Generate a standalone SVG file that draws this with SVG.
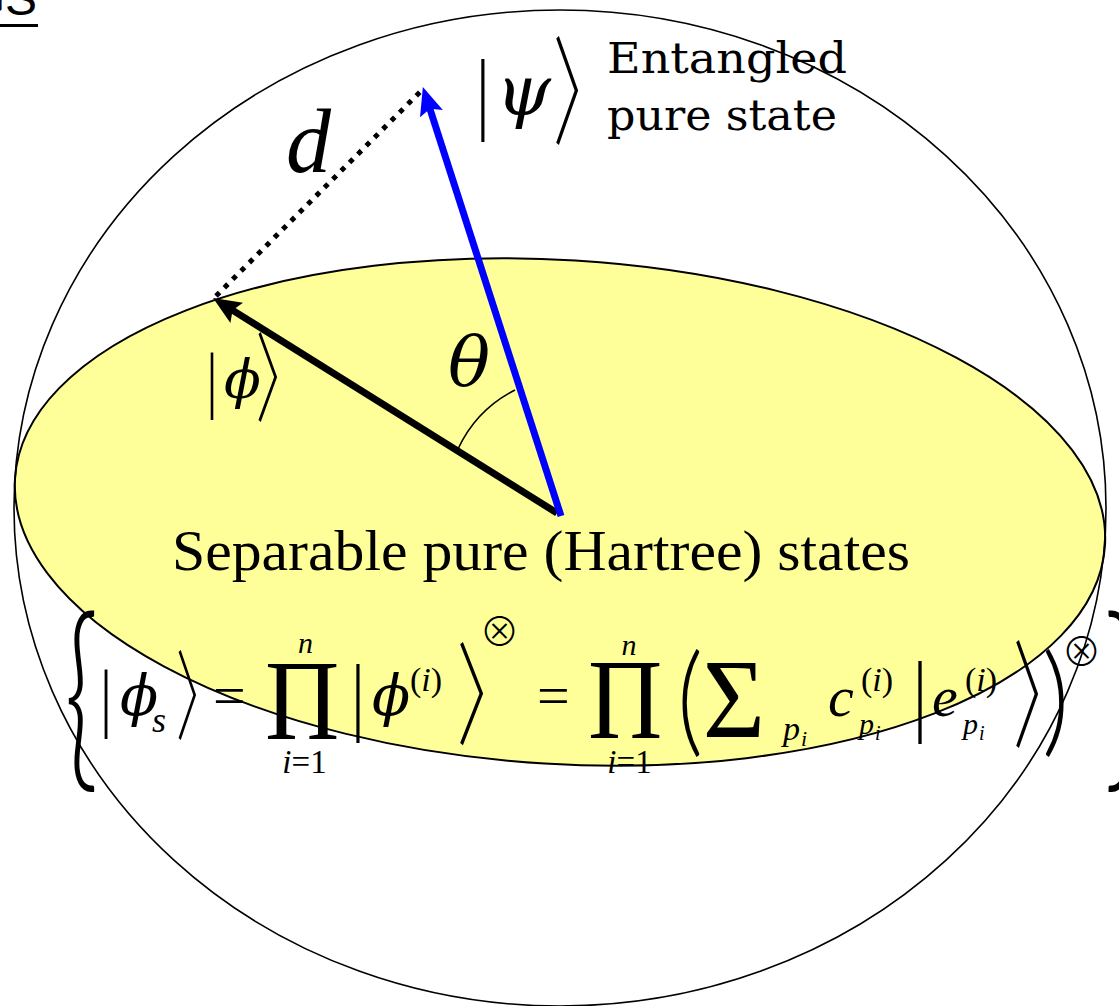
<svg xmlns="http://www.w3.org/2000/svg" width="1119" height="1006" viewBox="0 0 1119 1006">
<defs>
<style>
.m{font-family:"Liberation Serif","DejaVu Serif",serif;fill:#000}
.mi{font-family:"Liberation Serif","DejaVu Serif",serif;font-style:italic;fill:#000}
.gi{font-family:"DejaVu Serif",serif;font-style:italic;fill:#000}
.br{font-family:"Noto Sans CJK SC",sans-serif;font-weight:300;fill:#000}
.dl{font-family:"Lato",sans-serif;font-weight:300;fill:#000}
.lab{font-family:"DejaVu Serif",serif;fill:#000}
</style>
<marker id="ahK" markerUnits="userSpaceOnUse" markerWidth="30" markerHeight="24" viewBox="0 0 30 24" refX="8" refY="12" orient="auto"><path d="M0,0 L28,12 L0,24 L5,12 z" fill="#000"/></marker>
<marker id="ahB" markerUnits="userSpaceOnUse" markerWidth="30" markerHeight="24" viewBox="0 0 30 24" refX="8" refY="12" orient="auto"><path d="M0,0 L28,12 L0,24 L5,12 z" fill="#0000FF"/></marker>
</defs>
<rect x="0" y="0" width="1119" height="1006" fill="#fff"/>
<g id="heading">
<text x="37" y="15" text-anchor="end" font-family="Liberation Sans, Arial, sans-serif" font-size="48">GS</text>
<rect x="0" y="24" width="38" height="3" fill="#000"/>
</g>
<g id="separable-plane">
<ellipse cx="560" cy="512" rx="546" ry="252" transform="rotate(3.5 560 512)" fill="#FFFF99" stroke="#000" stroke-width="2"/>
</g>
<g id="sphere">
<ellipse cx="560" cy="508" rx="546" ry="498" fill="none" stroke="#000" stroke-width="1.6"/>
</g>
<g id="connectors">
<line x1="216" y1="296" x2="424" y2="88" stroke="#000" stroke-width="5" stroke-dasharray="5 6.8"/>
<line x1="557" y1="513" x2="230" y2="308.6" stroke="#000" stroke-width="7" marker-end="url(#ahK)"/>
<line x1="561" y1="516" x2="429" y2="106" stroke="#0000FF" stroke-width="7" marker-end="url(#ahB)"/>
<path d="M458,449 A126,126 0 0 1 515,390" fill="none" stroke="#000" stroke-width="1.6"/>
</g>
<g id="label-d"><text class="mi" x="286" y="172" font-size="90">d</text></g>
<g id="label-theta"><text class="gi" x="448" y="386" font-size="70">θ</text></g>
<g id="ket-psi">
<text class="m" transform="translate(476.6 123) scale(0.7 1)" font-size="91">|</text>
<text class="gi" x="496" y="115" font-size="70">ψ</text>
<text class="br" transform="translate(552.9 135.9) scale(0.538 1)" font-size="118">〉</text>
</g>
<g id="label-entangled">
<text class="lab" x="607" y="73" font-size="42" textLength="240" lengthAdjust="spacingAndGlyphs">Entangled</text>
<text class="lab" x="607" y="130" font-size="42" textLength="230" lengthAdjust="spacingAndGlyphs">pure state</text>
</g>
<g id="ket-phi">
<text class="m" transform="translate(206.8 403.6) scale(0.7 1)" font-size="75">|</text>
<text class="gi" x="224" y="398" font-size="54">ϕ</text>
<text class="br" transform="translate(255.7 414.2) scale(0.554 1)" font-size="97.4">〉</text>
</g>
<g id="label-separable">
<text class="m" x="172" y="570" font-size="56" textLength="738" lengthAdjust="spacingAndGlyphs">Separable pure (Hartree) states</text>
</g>
<g id="formula">
<text class="dl" transform="translate(64 765) scale(0.98 1.7)" font-size="120">{</text>
<text class="m" transform="translate(100.2 723.2) scale(0.75 1)" font-size="77">|</text>
<text class="gi" x="120" y="715" font-size="56">ϕ</text>
<text class="mi" x="152" y="732" font-size="36">s</text>
<text class="br" transform="translate(175.9 732.2) scale(0.521 1)" font-size="97.4">〉</text>
<text class="m" x="213" y="715" font-size="58">=</text>
<text class="m" transform="translate(265 739) scale(0.895 1)" font-size="115">Π</text>
<text class="mi" x="305.5" y="653" font-size="30" text-anchor="middle">n</text>
<text class="m" x="304.5" y="773" font-size="33" text-anchor="middle"><tspan font-style="italic">i</tspan>=1</text>
<text class="m" transform="translate(351.6 724.3) scale(0.75 1)" font-size="86">|</text>
<text class="gi" x="372" y="715" font-size="56">ϕ</text>
<text class="m" x="410" y="691" font-size="34">(<tspan font-style="italic">i</tspan>)</text>
<text class="br" transform="translate(456.7 736.3) scale(0.597 1)" font-size="111.7">〉</text>
<text class="br" x="499.5" y="646" font-size="40" text-anchor="middle">⊗</text>
<text class="m" x="537" y="715" font-size="58">=</text>
<text class="m" transform="translate(588 738) scale(0.895 1)" font-size="115">Π</text>
<text class="mi" x="629" y="655" font-size="30" text-anchor="middle">n</text>
<text class="m" x="629.5" y="773" font-size="33" text-anchor="middle"><tspan font-style="italic">i</tspan>=1</text>
<text class="dl" transform="translate(677 741) scale(0.9 1.07)" font-size="112">(</text>
<text class="m" transform="translate(702.8 737) scale(0.955 1)" font-size="112">Σ</text>
<text class="mi" x="783" y="740" font-size="34">p</text>
<text class="mi" x="801" y="746" font-size="22">i</text>
<text class="mi" x="828" y="716" font-size="58">c</text>
<text class="m" x="861" y="691" font-size="34">(<tspan font-style="italic">i</tspan>)</text>
<text class="mi" x="859" y="734" font-size="30">p</text>
<text class="mi" x="875" y="740" font-size="20">i</text>
<text class="m" transform="translate(913.2 725.4) scale(0.75 1)" font-size="90">|</text>
<text class="mi" x="932" y="716" font-size="58">e</text>
<text class="m" x="965" y="691" font-size="34">(<tspan font-style="italic">i</tspan>)</text>
<text class="mi" x="963" y="734" font-size="30">p</text>
<text class="mi" x="979" y="740" font-size="20">i</text>
<text class="br" transform="translate(1012.9 738) scale(0.543 1)" font-size="116.9">〉</text>
<text class="dl" transform="translate(1042 741) scale(0.95 1.07)" font-size="112">)</text>
<text class="br" x="1081.5" y="666" font-size="40" text-anchor="middle">⊗</text>
<text class="dl" transform="translate(1104 765) scale(0.98 1.7)" font-size="120">}</text>
</g>
</svg>
